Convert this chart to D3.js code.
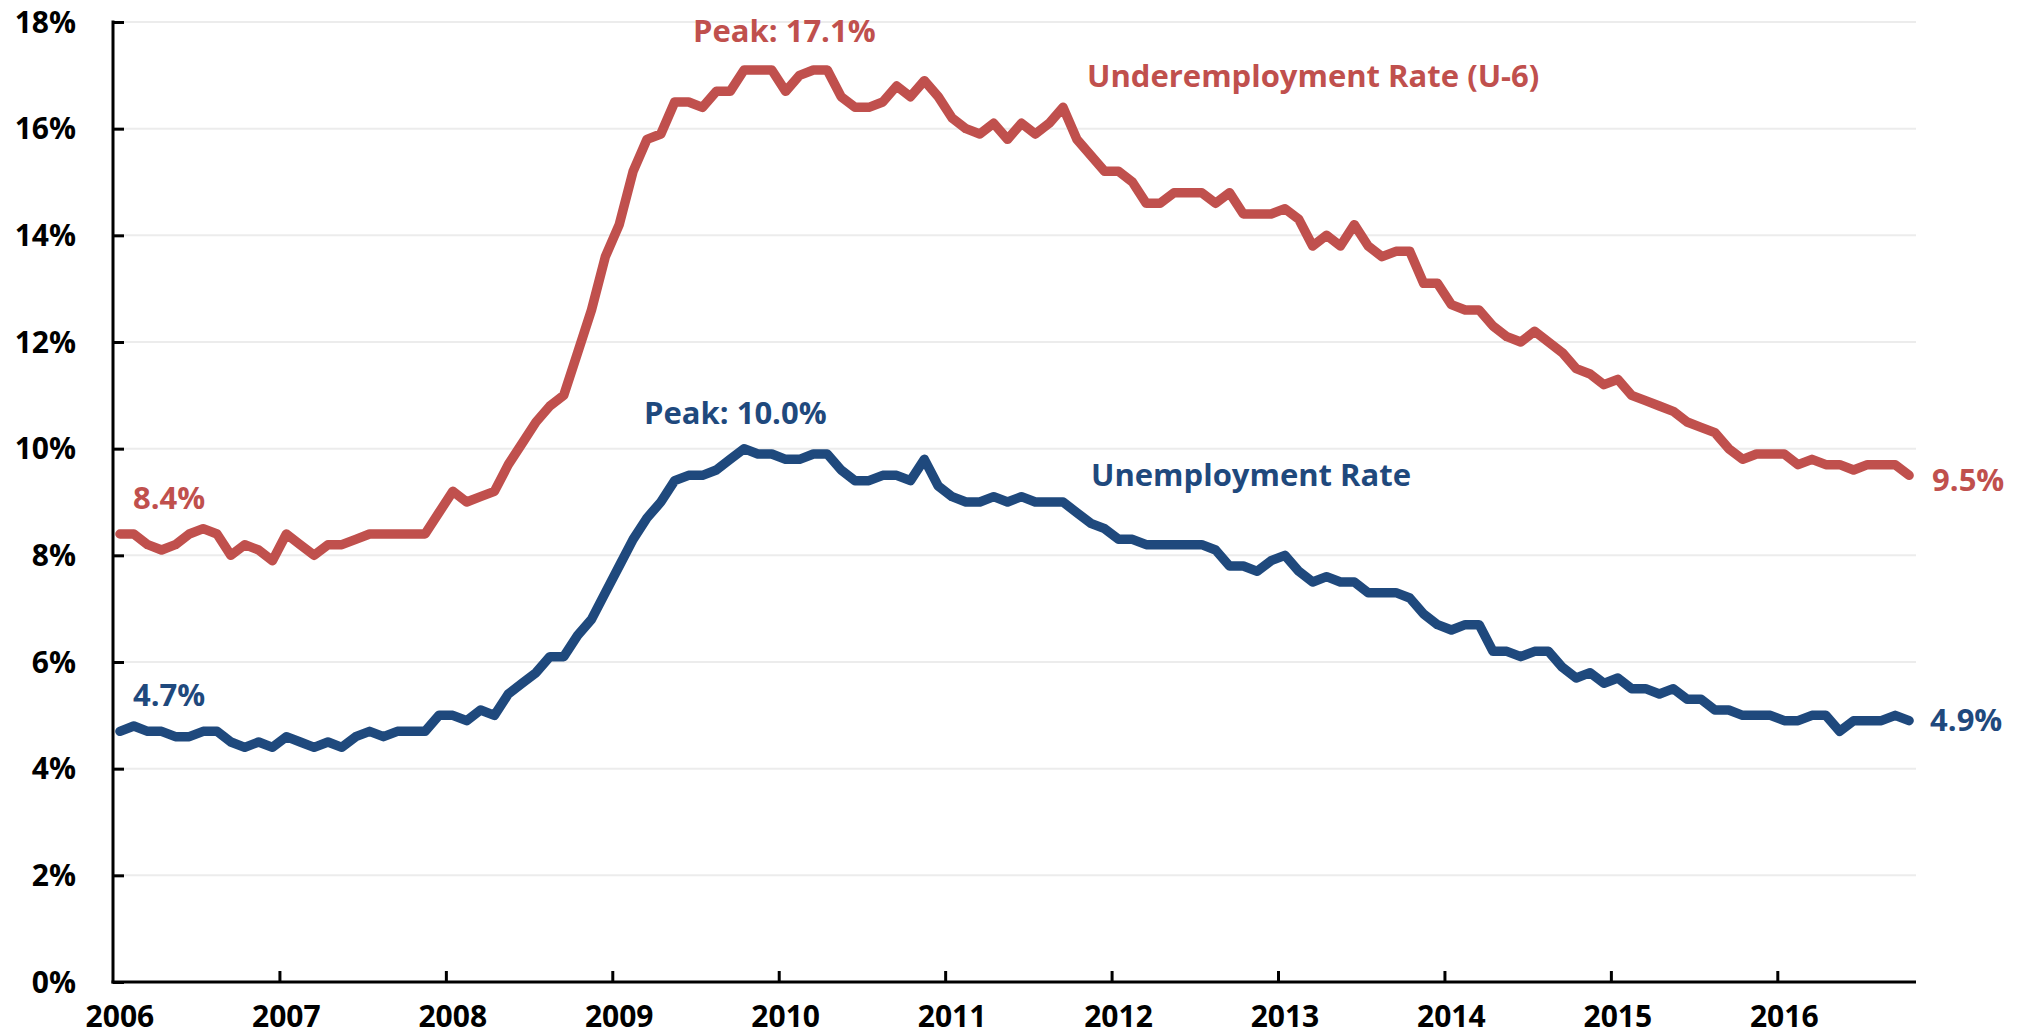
<!DOCTYPE html>
<html lang="en">
  <head>
    <meta charset="utf-8" />
    <title>Unemployment and Underemployment</title>
    <script src="https://d3js.org/d3.v7.min.js"></script>
    <style type="text/css">
      body {
        margin: 0;
        background: #fff;
        font-family: "Open Sans", "Noto Sans", sans-serif;
      }
      svg text {
        font-weight: 700;
      }
    </style>
  </head>
  <body>
    <svg id="chart" width="2028" height="1036"></svg>

    <script type="text/javascript">
      // monthly data, Jan 2006 - Oct 2016
      const years = ["2006", "2007", "2008", "2009", "2010", "2011", "2012", "2013", "2014", "2015", "2016"];
      const yTicks = [0, 2, 4, 6, 8, 10, 12, 14, 16, 18];

      // official unemployment rate (U-3), %
      const unemployment = [
        4.7, 4.8, 4.7, 4.7, 4.6, 4.6, 4.7, 4.7, 4.5, 4.4, 4.5, 4.4,
        4.6, 4.5, 4.4, 4.5, 4.4, 4.6, 4.7, 4.6, 4.7, 4.7, 4.7, 5.0,
        5.0, 4.9, 5.1, 5.0, 5.4, 5.6, 5.8, 6.1, 6.1, 6.5, 6.8, 7.3,
        7.8, 8.3, 8.7, 9.0, 9.4, 9.5, 9.5, 9.6, 9.8, 10.0, 9.9, 9.9,
        9.8, 9.8, 9.9, 9.9, 9.6, 9.4, 9.4, 9.5, 9.5, 9.4, 9.8, 9.3,
        9.1, 9.0, 9.0, 9.1, 9.0, 9.1, 9.0, 9.0, 9.0, 8.8, 8.6, 8.5,
        8.3, 8.3, 8.2, 8.2, 8.2, 8.2, 8.2, 8.1, 7.8, 7.8, 7.7, 7.9,
        8.0, 7.7, 7.5, 7.6, 7.5, 7.5, 7.3, 7.3, 7.3, 7.2, 6.9, 6.7,
        6.6, 6.7, 6.7, 6.2, 6.2, 6.1, 6.2, 6.2, 5.9, 5.7, 5.8, 5.6,
        5.7, 5.5, 5.5, 5.4, 5.5, 5.3, 5.3, 5.1, 5.1, 5.0, 5.0, 5.0,
        4.9, 4.9, 5.0, 5.0, 4.7, 4.9, 4.9, 4.9, 5.0, 4.9
      ];

      // underemployment rate (U-6), %
      const underemployment = [
        8.4, 8.4, 8.2, 8.1, 8.2, 8.4, 8.5, 8.4, 8.0, 8.2, 8.1, 7.9,
        8.4, 8.2, 8.0, 8.2, 8.2, 8.3, 8.4, 8.4, 8.4, 8.4, 8.4, 8.8,
        9.2, 9.0, 9.1, 9.2, 9.7, 10.1, 10.5, 10.8, 11.0, 11.8, 12.6, 13.6,
        14.2, 15.2, 15.8, 15.9, 16.5, 16.5, 16.4, 16.7, 16.7, 17.1, 17.1, 17.1,
        16.7, 17.0, 17.1, 17.1, 16.6, 16.4, 16.4, 16.5, 16.8, 16.6, 16.9, 16.6,
        16.2, 16.0, 15.9, 16.1, 15.8, 16.1, 15.9, 16.1, 16.4, 15.8, 15.5, 15.2,
        15.2, 15.0, 14.6, 14.6, 14.8, 14.8, 14.8, 14.6, 14.8, 14.4, 14.4, 14.4,
        14.5, 14.3, 13.8, 14.0, 13.8, 14.2, 13.8, 13.6, 13.7, 13.7, 13.1, 13.1,
        12.7, 12.6, 12.6, 12.3, 12.1, 12.0, 12.2, 12.0, 11.8, 11.5, 11.4, 11.2,
        11.3, 11.0, 10.9, 10.8, 10.7, 10.5, 10.4, 10.3, 10.0, 9.8, 9.9, 9.9,
        9.9, 9.7, 9.8, 9.7, 9.7, 9.6, 9.7, 9.7, 9.7, 9.5
      ];

      const red = "#c0504d";
      const blue = "#1f497d";

      const svg = d3.select("#chart");

      // plot area
      const plot = {left: 113, right: 1916, top: 22, bottom: 982};
      const nMonths = unemployment.length;

      // months are slots, points sit in the middle of each
      const x = d3.scaleLinear().domain([0, nMonths]).range([plot.left, plot.right]);
      const y = d3.scaleLinear().domain([0, 18]).range([plot.bottom, plot.top]);
      const px = i => x(i + 0.5);

      // gridlines
      svg.append("g")
        .selectAll("line")
        .data(yTicks.filter(d => d > 0))
        .enter()
        .append("line")
        .attr("x1", plot.left)
        .attr("x2", plot.right)
        .attr("y1", d => y(d))
        .attr("y2", d => y(d))
        .attr("stroke", "#ececec")
        .attr("stroke-width", 2);

      // y axis
      const yAxis = svg.append("g")
        .attr("transform", `translate(${plot.left},0)`)
        .call(d3.axisRight(y).tickValues(yTicks).tickSize(11).tickFormat(""));
      yAxis.select(".domain").remove();
      yAxis.selectAll(".tick line").attr("stroke", "#000").attr("stroke-width", 3);
      svg.append("line")
        .attr("x1", plot.left).attr("x2", plot.left)
        .attr("y1", plot.top - 1.5).attr("y2", plot.bottom + 1.5)
        .attr("stroke", "#000").attr("stroke-width", 3);

      svg.append("g")
        .selectAll("text")
        .data(yTicks)
        .enter()
        .append("text")
        .attr("x", 76)
        .attr("y", d => y(d))
        .attr("dy", "0.35em")
        .attr("text-anchor", "end")
        .attr("font-size", "30px")
        .attr("fill", "#000")
        .text(d => d + "%");

      // x axis
      const yearIdx = years.map((d, i) => i * 12);
      const xAxis = svg.append("g")
        .attr("transform", `translate(0,${plot.bottom})`)
        .call(d3.axisTop(x).tickValues(yearIdx.slice(1)).tickSize(11).tickFormat(""));
      xAxis.select(".domain").remove();
      xAxis.selectAll(".tick line").attr("stroke", "#000").attr("stroke-width", 3);
      svg.append("line")
        .attr("x1", plot.left - 1.5).attr("x2", plot.right)
        .attr("y1", plot.bottom).attr("y2", plot.bottom)
        .attr("stroke", "#000").attr("stroke-width", 3);

      svg.append("g")
        .selectAll("text")
        .data(years)
        .enter()
        .append("text")
        .attr("x", (d, i) => px(i * 12))
        .attr("y", 1027)
        .attr("text-anchor", "middle")
        .attr("font-size", "30px")
        .attr("fill", "#000")
        .text(d => d);

      // lines
      const line = d3.line()
        .x((d, i) => px(i))
        .y(d => y(d));

      svg.append("path")
        .datum(underemployment)
        .attr("d", line)
        .attr("fill", "none")
        .attr("stroke", red)
        .attr("stroke-width", 9.5)
        .attr("stroke-linejoin", "round")
        .attr("stroke-linecap", "round");

      svg.append("path")
        .datum(unemployment)
        .attr("d", line)
        .attr("fill", "none")
        .attr("stroke", blue)
        .attr("stroke-width", 9.5)
        .attr("stroke-linejoin", "round")
        .attr("stroke-linecap", "round");

      // annotations
      const last = nMonths - 1;
      const u6Max = d3.max(underemployment);
      const u3Max = d3.max(unemployment);
      const u6Peak = underemployment.indexOf(u6Max);
      const u3Peak = unemployment.indexOf(u3Max);
      const notes = [
        {t: "Peak: " + u6Max.toFixed(1) + "%", c: red, x: px(u6Peak) - 51, y: y(u6Max) - 28},
        {t: "Underemployment Rate (U-6)", c: red, x: 1087, y: 87},
        {t: "Peak: " + u3Max.toFixed(1) + "%", c: blue, x: px(u3Peak) - 100, y: y(u3Max) - 25},
        {t: "Unemployment Rate", c: blue, x: 1091, y: 486},
        {t: underemployment[0].toFixed(1) + "%", c: red, x: px(0) + 13, y: y(underemployment[0]) - 25},
        {t: unemployment[0].toFixed(1) + "%", c: blue, x: px(0) + 13, y: y(unemployment[0]) - 25},
        {t: underemployment[last].toFixed(1) + "%", c: red, x: px(last) + 23, y: y(underemployment[last]) + 16},
        {t: unemployment[last].toFixed(1) + "%", c: blue, x: px(last) + 21, y: y(unemployment[last]) + 10}
      ];

      svg.append("g")
        .selectAll("text")
        .data(notes)
        .enter()
        .append("text")
        .attr("x", d => d.x)
        .attr("y", d => d.y)
        .attr("font-size", "31px")
        .attr("fill", d => d.c)
        .text(d => d.t);
    </script>
  </body>
</html>
